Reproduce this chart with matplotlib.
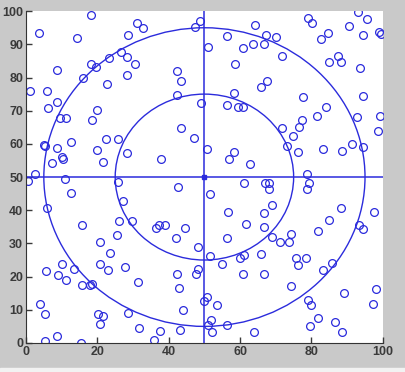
import matplotlib.pyplot as plt
from matplotlib.patches import Circle, Rectangle

# point coordinates
x_pts = [1, 3.7, 5.8, 6.3, 8.6, 8.8, 9.6, 11.1, 5.1, 5.4, 8.6, 7.2, 10.2, 10.5, 2.5, 0.7,
         10.8, 12.7, 14.2, 18.3, 15.9, 18.3, 19.6, 18.5, 20, 19.8, 22.5, 21.5, 22.7, 23.3,
         25.9, 26.6, 28.3, 28.3, 28.7, 30.6, 31.1, 32.8, 28.3, 25.8, 37.7, 42.3, 43.3, 42.4,
         43.5, 47, 47.3, 48.7, 49.1, 51, 50.7,
         56.4, 64.2, 67.3, 70.1, 66.8, 63.6, 60.9, 58.5, 71.8, 67.5, 65.9, 58.3, 56.2, 59.5,
         60.9, 77.5, 78.9, 80.2, 84.6, 82.8, 87.3, 88.4, 84.8, 90.5, 92.9, 95.5, 94.3, 98.8,
         99.4, 93.7, 94.3, 84, 81.6, 77.3, 76.6, 71.6, 74.8, 73.2, 76.1, 83.1, 88.6, 91.3,
         94.5, 92.7, 99.3, 98.5, 58.3, 56.8, 62.8, 78.7,
         61.2, 67.1, 68.2, 68, 79.3, 78.7, 51.5, 69, 56.5, 66.8, 61.6, 66.6, 74.4, 69, 71.3,
         73.7, 56.2, 51.6, 60, 61.1, 65.9, 54.8, 60.8, 66.6, 75.8, 78.4, 76.2, 83.3, 85.7,
         74.4, 81.7, 84.9, 88.3, 93.3, 94.4, 97.5, 98, 97.1, 89.2, 78.9, 79.8, 81.9, 79.7,
         86.5, 88.6, 63.9, 56.2, 52.2, 51.8, 51.1, 50.6, 49.8, 53.6,
         12.5, 5.8, 15.6, 27.1, 26.1, 29.7, 25.5, 20.8, 23.5, 36.5, 37.2, 38.9, 42.5, 44.6,
         42, 48.3, 10.2, 5.6, 8.9, 11.2, 13.4, 15.8, 17.9, 18.6, 20.8, 22.9, 27.8, 31.4, 42.4,
         42.9, 48.3, 47.6, 4, 5.2, 20.2, 21.6, 20.8, 28.6, 31.8, 44.1, 37.6, 43.2, 35.8, 8.7,
         5.2, 15.5]
y_pts = [76, 93.3, 76, 70.9, 82.2, 72.5, 67.7, 67.7, 59.6, 59.4, 58.9, 54.2, 55.9, 55.5, 51, 48.7,
         49.3, 60.6, 92, 98.8, 80, 84.2, 83.3, 67.1, 70.2, 58.3, 61.4, 54.4, 77.9, 85.9,
         61.6, 87.7, 86.2, 80.7, 92.7, 84, 96.5, 95, 57.4, 48.6, 55.3, 81.9, 78.9, 74.8,
         64.9, 61.8, 95.3, 97.1, 72.2, 89.2, 58.6,
         92.5, 95.7, 92.9, 92.1, 90.2, 90, 89, 84.2, 86.5, 79, 77.2, 75.2, 71.6, 71,
         71, 74.2, 97.8, 96.5, 93.3, 91.7, 86.4, 84.8, 84.8, 95.4, 99.6, 97.6, 92.7, 93.8,
         93.1, 83, 74.5, 71.1, 68.3, 67.3, 65, 64.9, 62.3, 59.4, 57.6, 58.6, 57.9, 59.9,
         59.1, 68, 68.3, 64, 57.5, 55.5, 53.9, 50.8,
         48.2, 48.2, 48.2, 46.5, 48.2, 46.5, 44.8, 41.6, 39.5, 39.3, 36, 35.1, 32.7, 31.9, 30.5,
         30.5, 31.6, 26.1, 25.5, 26.4, 26.7, 23.8, 20.9, 20.8, 25.7, 25.5, 23.6, 22.1, 24,
         17.1, 33.6, 37.1, 40.7, 35.7, 34.4, 39.5, 16.2, 11.7, 15, 13.1, 11.5, 7.5, 5.2,
         6.2, 3.2, 3.2, 5.5, 3.2, 6.8, 5.5, 13.9, 12.7, 11.5,
         45.3, 40.7, 35.7, 42.7, 36.7, 36.7, 32.4, 30.4, 27.2, 34.7, 35.7, 35.7, 47, 34.7,
         31.7, 28.9, 23.9, 21.7, 20.6, 18.9, 22.2, 17.6, 17.6, 17.9, 23.9, 22.1, 22.9, 18.3, 20.9,
         16.7, 22.4, 20.9, 11.7, 8.6, 8.6, 8.1, 5.6, 9.1, 4.4, 10, 3.6, 3.8, 0.8, 2.2,
         0.7, 0.1]

center = (50, 50)
radii = [25, 45]

blue = '#2b2bdc'

plt.rcParams['font.family'] = ['Liberation Sans', 'DejaVu Sans']

fig = plt.figure(figsize=(4.06, 3.72), dpi=100, facecolor='#c9c9c9')
# light strip along the bottom of the window
fig.patches.append(Rectangle((0, 0), 1, 0.012, transform=fig.transFigure,
                             color='#f2f2f2', zorder=0))
ax = fig.add_axes([0.064, 0.078, 0.879, 0.892])
ax.set_facecolor('white')

ax.plot(x_pts, y_pts, 'o', mfc='none', mec=blue, ms=5.6, mew=0.9, ls='none')

for r in radii:
    ax.add_patch(Circle(center, r, fill=False, ec=blue, lw=1.0))

ax.axhline(center[1], color=blue, lw=1.1)
ax.axvline(center[0], color=blue, lw=1.1)
ax.plot(*center, 's', color=blue, ms=2.5)

ax.set_xlim(0, 100)
ax.set_ylim(0, 100)
ax.set_xticks(range(0, 101, 20))
ax.set_yticks(range(0, 101, 10))
ax.spines['top'].set_visible(False)
ax.spines['right'].set_visible(False)
ax.spines['left'].set_color('#333333')
ax.spines['bottom'].set_color('#333333')
ax.tick_params(direction='in', length=4, width=1, colors='#3a3a3a', labelsize=9, pad=2)
for lab in ax.get_xticklabels() + ax.get_yticklabels():
    lab.set_fontweight('bold')

fig.savefig('out.png', dpi=100, facecolor=fig.get_facecolor())
